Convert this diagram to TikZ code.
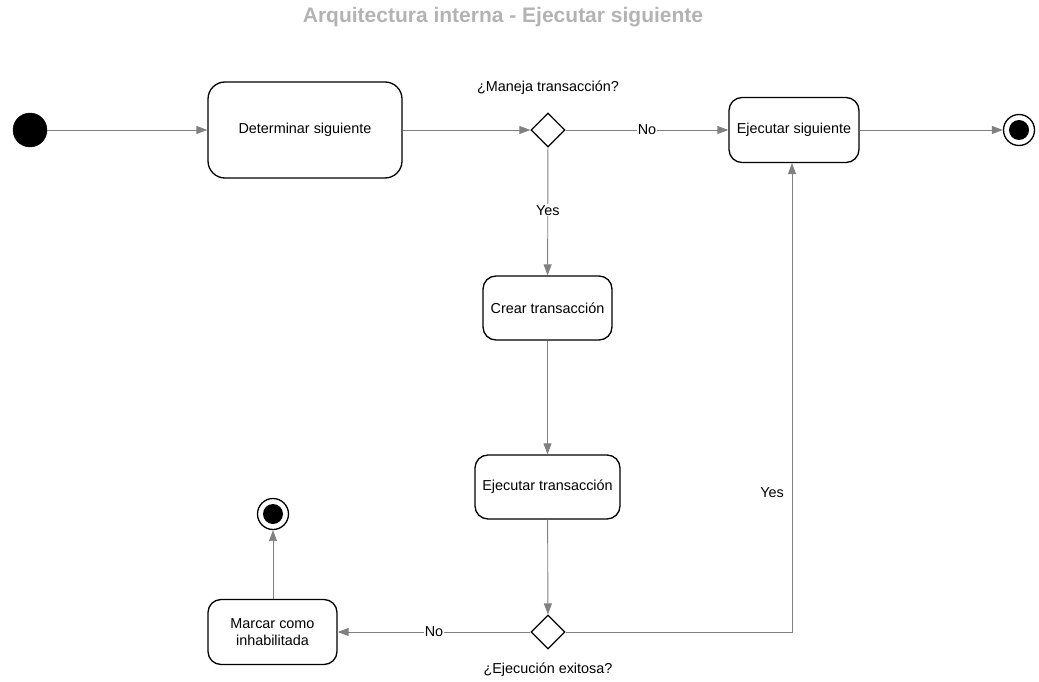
\documentclass[tikz,border=0pt]{standalone}
\usepackage{fontspec}
\setmainfont{Liberation Sans}
\usetikzlibrary{arrows.meta,shapes.geometric}
\definecolor{edgegray}{HTML}{808080}
\definecolor{titlegray}{HTML}{B3B3B3}
\tikzset{
  action/.style={draw=black, line width=1.3pt, fill=white, rounded corners=13pt,
    inner sep=0pt, align=center, font=\fontsize{14.4}{17}\selectfont},
  bigaction/.style={action, rounded corners=17pt},
  decision/.style={draw=black, line width=1.3pt, fill=white, diamond, aspect=1,
    inner sep=0pt, minimum width=34pt, minimum height=34pt},
  initial/.style={circle, fill=black, draw=black, inner sep=0pt, minimum size=34pt},
  final/.style={circle, draw=black, line width=1.3pt, fill=white, inner sep=0pt, minimum size=31pt,
    path picture={\fill[black] (path picture bounding box.center) circle (10pt);}},
  flow/.style={draw=edgegray, line width=0.9pt, -{Triangle[length=11pt,width=8pt]}},
  lbl/.style={font=\fontsize{14.4}{17}\selectfont, inner sep=1pt},
  onlinelbl/.style={lbl, fill=white},
}
\begin{document}
\begin{tikzpicture}[x=1pt, y=-1pt]
\useasboundingbox (0,0) rectangle (1039,682);

% title
\node[font=\bfseries\fontsize{21}{25}\selectfont, text=titlegray] (title) at (503,17.5) {Arquitectura interna - Ejecutar siguiente};

% nodes
\node[initial] (start) at (30,130) {};
\node[bigaction, minimum width=194pt, minimum height=96pt] (det) at (305,130) {Determinar siguiente};
\node[decision] (d1) at (548,130) {};
\node[lbl] (q1) at (548,88) {¿Maneja transacción?};
\node[action, minimum width=130pt, minimum height=65pt] (exec) at (794,130) {Ejecutar siguiente};
\node[final] (end1) at (1019,130) {};

\node[action, minimum width=129pt, minimum height=64pt] (crear) at (547.5,308) {Crear transacción};
\node[action, minimum width=145pt, minimum height=64pt] (ejt) at (547.5,487) {Ejecutar transacción};
\node[decision] (d2) at (548,632) {};
\node[lbl] (q2) at (548,670) {¿Ejecución exitosa?};
\node[action, minimum width=129pt, minimum height=65pt] (marcar) at (272.5,632) {Marcar como\\inhabilitada};
\node[final] (end2) at (273,514) {};

\coordinate (corner) at (792,632);

% connectors
\draw[flow] (start) -- (det);
\draw[flow] (det) -- (d1);
\draw[flow] (d1) -- node[onlinelbl, pos=0.5] (no1) {No} (exec);
\draw[flow] (exec) -- (end1);
\draw[flow] (d1) -- node[onlinelbl, pos=0.49] (yes1) {Yes} (crear);
\draw[flow] (crear) -- (ejt);
\draw[flow] (ejt) -- (d2);
\draw[flow] (d2) -- node[onlinelbl, pos=0.5] (no2) {No} (marcar);
\draw[flow] (d2) -- (corner) -- (corner |- exec.south);
\node[lbl] (yes2) at (772,493) {Yes};
\draw[flow] (marcar.north -| end2) -- (end2);
\end{tikzpicture}
\end{document}
